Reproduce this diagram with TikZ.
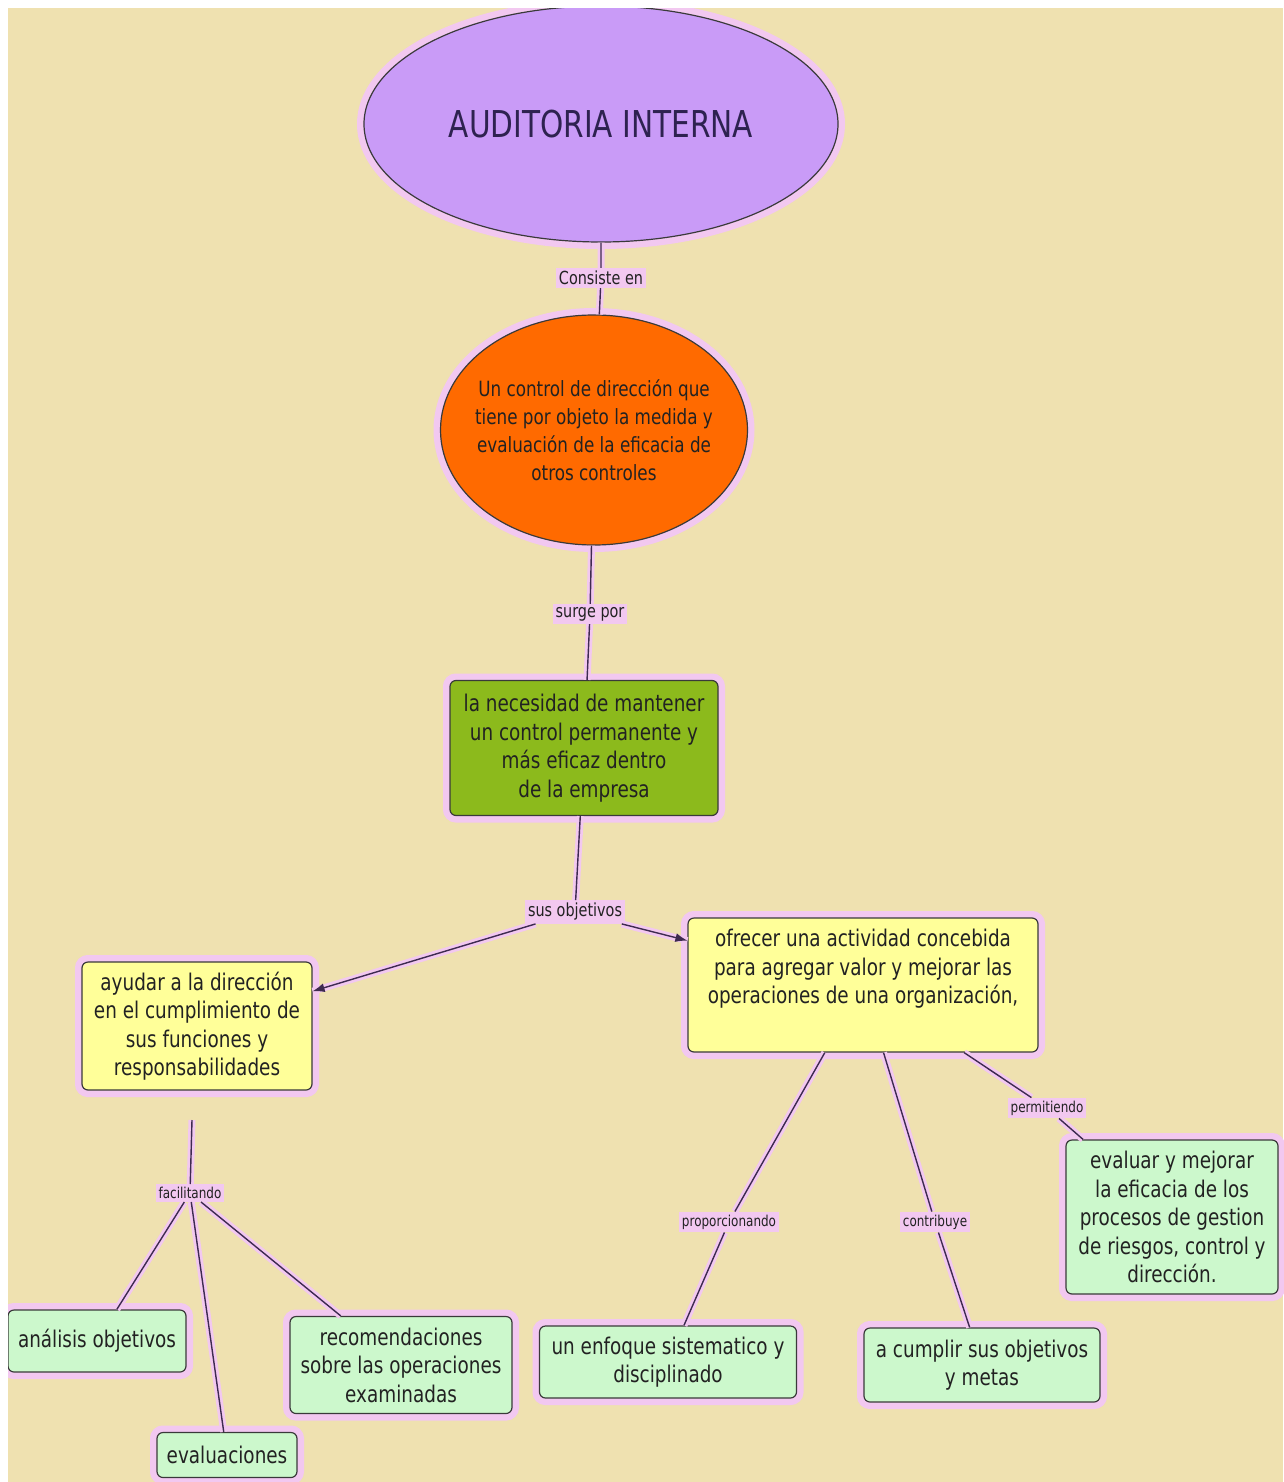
\documentclass[tikz,border=0pt]{standalone}
\usepackage{fontspec}
\setmainfont{DejaVu Sans}[FakeStretch=0.8]
\usetikzlibrary{arrows.meta, shapes, positioning}

\definecolor{fondo}{HTML}{EFE1B0}
\definecolor{halo}{HTML}{F2C8F0}
\definecolor{lila}{HTML}{C99BF7}
\definecolor{naranja}{HTML}{FF6A00}
\definecolor{verde}{HTML}{8CBA1C}
\definecolor{amarillo}{HTML}{FFFF99}
\definecolor{menta}{HTML}{CCF8CC}
\definecolor{borde}{HTML}{3A3A3A}
\definecolor{linea}{HTML}{3E2A50}
\definecolor{titulo}{HTML}{2E2250}
\definecolor{texto}{HTML}{222222}

\tikzset{
  glow/.style={preaction={draw=halo, line width=14pt}},
  ovalnode/.style={ellipse, draw=borde, line width=1.2pt, glow, align=center, text=texto},
  boxnode/.style={rectangle, rounded corners=6pt, draw=borde, line width=1.2pt, glow, align=center,
    inner sep=4pt, text=texto, font=\fontsize{23}{28.5}\selectfont},
  leafnode/.style={boxnode, fill=menta},
  linkword/.style={fill=halo, inner sep=3pt, text=texto, font=\fontsize{18}{20}\selectfont},
  smallword/.style={linkword, font=\fontsize{15}{17}\selectfont},
  link/.style={draw=linea, line width=1.4pt, preaction={draw=halo, line width=7pt, -}},
  arrowtip/.style={-{Latex[length=12pt, width=9pt]}}
}

\begin{document}
\begin{tikzpicture}[x=1pt, y=-1pt]

        % Canvas
        \useasboundingbox (0,0) rectangle (1283,1482);
        \fill[fondo] (0,0) rectangle (1283,1482);

        % Main concept
        \node[ovalnode, fill=lila, minimum width=474pt, minimum height=236pt, text=titulo,
          font=\fontsize{37}{40}\selectfont] (auditoria) at (601,124) {AUDITORIA INTERNA};

        % Definition
        \node[linkword] (consiste) at (601,278) {Consiste en};
        \node[ovalnode, fill=naranja, minimum width=307pt, minimum height=230pt, inner xsep=-22pt,
          font=\fontsize{21}{28}\selectfont] (control) at (594,430)
          {Un control de dirección que\\tiene por objeto la medida y\\evaluación de la eficacia de\\otros controles};
        \draw[link] (auditoria) -- (consiste) -- (control);

        % Origin
        \node[linkword] (surge) at (590,614) {surge por};
        \node[boxnode, fill=verde, minimum width=268pt, minimum height=135pt] (necesidad) at (584,748)
          {la necesidad de mantener\\un control permanente y\\más eficaz dentro\\de la empresa};
        \draw[link] (control) -- (surge) -- (necesidad);

        % Objectives
        \node[linkword] (objetivos) at (575,912) {sus objetivos};
        \draw[link] (necesidad) -- (objetivos);

        % Objective 1
        \node[boxnode, fill=amarillo, minimum width=230pt, minimum height=128pt] (ayudar) at (197,1026)
          {ayudar a la dirección\\en el cumplimiento de\\sus funciones y\\responsabilidades};
        \draw[link, arrowtip] (objetivos) -- (ayudar);

        % Objective 2
        \node[boxnode, fill=amarillo, minimum width=350pt, minimum height=134pt] (ofrecer) at (863,985)
          {ofrecer una actividad concebida\\para agregar valor y mejorar las\\operaciones de una organización,\\ \strut};
        \draw[link, arrowtip] (objetivos) -- (ofrecer);

        % facilitando
        \coordinate (ayudarpie) at (192,1120);
        \node[smallword] (facilitando) at (190,1193) {facilitando};
        \draw[link] (ayudarpie) -- (facilitando);

        % Leaves of objective 1
        \node[leafnode, minimum width=178pt, minimum height=62pt] (analisis) at (97,1341) {análisis objetivos};
        \node[leafnode, minimum width=140pt, minimum height=45pt] (evaluaciones) at (227,1455) {evaluaciones};
        \node[leafnode, minimum width=222pt, minimum height=97pt] (recomendaciones) at (401,1365)
          {recomendaciones\\sobre las operaciones\\examinadas};
        \draw[link] (facilitando) -- (analisis);
        \draw[link] (facilitando) -- (evaluaciones);
        \draw[link] (facilitando) -- (recomendaciones);

        % proporcionando
        \node[smallword] (proporcionando) at (729,1222) {proporcionando};
        \node[leafnode, minimum width=257pt, minimum height=72pt] (enfoque) at (668,1362)
          {un enfoque sistematico y\\disciplinado};
        \draw[link] (ofrecer) -- (proporcionando) -- (enfoque);

        % contribuye
        \node[smallword] (contribuye) at (935,1222) {contribuye};
        \node[leafnode, minimum width=236pt, minimum height=74pt] (metas) at (982,1365)
          {a cumplir sus objetivos\\y metas};
        \draw[link] (ofrecer) -- (contribuye) -- (metas);

        % permitiendo
        \node[smallword] (permitiendo) at (1047,1108) {permitiendo};
        \node[leafnode, minimum width=212pt, minimum height=154pt] (evaluar) at (1172,1217)
          {evaluar y mejorar\\la eficacia de los\\procesos de gestion\\de riesgos, control y\\dirección.};
        \draw[link] (ofrecer) -- (permitiendo) -- (evaluar);

        % White margin
        \fill[white] (0,0) rectangle (1283,8);
        \fill[white] (0,0) rectangle (8,1482);

    \end{tikzpicture}
\end{document}
